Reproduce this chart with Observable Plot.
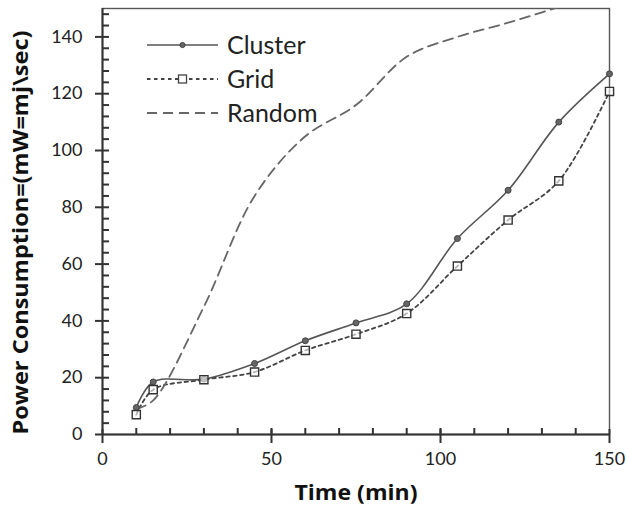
<!DOCTYPE html>
<html>
<head>
<meta charset="utf-8">
<script src="https://cdn.jsdelivr.net/npm/d3@7"></script>
<script src="https://cdn.jsdelivr.net/npm/@observablehq/plot@0.6"></script>
<style>
  html, body { margin: 0; padding: 0; background: #fff; }
</style>
</head>
<body>
<div id="wrap"></div>
<script>
// ---- data ----
const time    = [10, 15, 30, 45, 60, 75, 90, 105, 120, 135, 150];
const cluster = [9.5, 18.5, 19.5, 25, 33, 39.3, 46, 69, 86, 110, 127];
const grid    = [7, 15.8, 19.3, 22, 29.6, 35.3, 42.6, 59.3, 75.5, 89.3, 120.8];
const random  = [9, 12, 45, 84, 105, 116, 133, 140, 145, 150.5, 156];
const seriesNames = ["Cluster", "Grid", "Random"];

const xTickLabels = [0, 50, 100, 150];
const xInnerTicks = [10, 20, 30, 40, 50, 60, 70, 80, 90, 100, 110, 120, 130, 140];
const yTickLabels = [0, 20, 40, 60, 80, 100, 120, 140];
const yInnerTicks = [4, 8, 12, 16, 20, 24, 28, 32, 36, 40, 44, 48, 52, 56, 60, 64, 68, 72, 76, 80,
                     84, 88, 92, 96, 100, 104, 108, 112, 116, 120, 124, 128, 132, 136, 140, 144, 148];
const xTitle = "Time (min)";
const yTitle = "Power Consumption=(mW=mj\\sec)";

// ---- styles ----
const styles = {
  Cluster: {stroke: "#555", strokeWidth: 1.6, dash: null},
  Grid:    {stroke: "#444", strokeWidth: 1.8, dash: "3.5,3.5"},
  Random:  {stroke: "#666", strokeWidth: 1.8, dash: "10,6"}
};

const valuesBy = {Cluster: cluster, Grid: grid, Random: random};
const rows = seriesNames.flatMap(name => time.map((t, i) => ({series: name, t, v: valuesBy[name][i]})));
const rowsOf = name => rows.filter(d => d.series === name);

const axisColor = "#333";

const chart = Plot.plot({
  width: 626,
  height: 513,
  marginLeft: 102,
  marginRight: 17,
  marginTop: 8,
  marginBottom: 79,
  style: {fontFamily: "Lato, 'Open Sans', sans-serif", background: "#fff", color: "#222"},
  x: {domain: [0, 150]},
  y: {domain: [0, 150]},
  marks: [
    Plot.frame({stroke: "#555", strokeWidth: 1.4}),
    // series lines
    ...seriesNames.map(name => Plot.line(rowsOf(name), {
      x: "t", y: "v", curve: "catmull-rom", clip: name === "Random",
      stroke: styles[name].stroke, strokeWidth: styles[name].strokeWidth,
      strokeDasharray: styles[name].dash
    })),
    Plot.dot(rowsOf("Cluster"), {x: "t", y: "v", r: 3, fill: "#666", stroke: "#444", strokeWidth: 1}),
    Plot.dot(rowsOf("Grid"), {x: "t", y: "v", symbol: "square", r: 4.6, fill: "#fff", fillOpacity: 0.6, stroke: "#333", strokeWidth: 1.4}),
    // axis lines
    Plot.ruleX([0], {stroke: axisColor, strokeWidth: 2}),
    Plot.ruleY([0], {stroke: axisColor, strokeWidth: 2}),
    // tick labels + outer ticks
    Plot.axisX({ticks: xTickLabels, tickSize: 9, tickPadding: 9, fontSize: 18, label: null, stroke: axisColor, strokeWidth: 2}),
    Plot.axisY({ticks: yTickLabels, tickSize: 7, tickPadding: 13, fontSize: 18, label: null, stroke: axisColor, strokeWidth: 2}),
    // inner ticks (drawn inward from the axis)
    Plot.axisX({ticks: xInnerTicks, tickSize: 6, dy: -6, fill: "none", label: null, stroke: axisColor, strokeWidth: 2}),
    Plot.axisX({ticks: xTickLabels, tickSize: 5, dy: -5, fill: "none", label: null, stroke: axisColor, strokeWidth: 2}),
    Plot.axisY({ticks: yInnerTicks, tickSize: 7, dx: 7, fill: "none", label: null, stroke: axisColor, strokeWidth: 2}),
    // axis titles
    Plot.text([xTitle], {text: d => d, frameAnchor: "bottom", dy: 59, lineAnchor: "middle", textAnchor: "middle",
      fontSize: 21, fontWeight: "bold", fill: "#111", fontFamily: "'Open Sans', sans-serif", className: "xtitle"}),
    Plot.text([yTitle], {text: d => d, frameAnchor: "left", dx: -81, dy: 11, rotate: -90, lineAnchor: "middle", textAnchor: "middle",
      fontSize: 21, fontWeight: "bold", fill: "#111", fontFamily: "'Open Sans', sans-serif", className: "ytitle"})
  ]
});

document.getElementById("wrap").appendChild(chart);

// stretch the axis titles to the reference's lengths
d3.select(chart).selectAll(".xtitle text").attr("textLength", 123).attr("lengthAdjust", "spacingAndGlyphs");
d3.select(chart).selectAll(".ytitle text").attr("textLength", 404).attr("lengthAdjust", "spacingAndGlyphs");

// ---- legend, drawn inside the chart's own SVG (top-left of the plot area) ----
const leg = d3.select(chart).append("g").attr("class", "legend")
  .attr("font-family", "Lato, 'Open Sans', sans-serif")
  .attr("text-anchor", "start");
const x0 = 147, x1 = 218, xt = 227, y0 = 45, dyRow = 34;
seriesNames.forEach((name, i) => {
  const y = y0 + i * dyRow;
  const s = styles[name];
  leg.append("line").attr("x1", x0).attr("x2", x1).attr("y1", y).attr("y2", y)
    .attr("stroke", s.stroke).attr("stroke-width", s.strokeWidth)
    .attr("stroke-dasharray", s.dash);
  if (name === "Cluster") {
    leg.append("circle").attr("cx", (x0 + x1) / 2).attr("cy", y).attr("r", 2.6)
      .attr("fill", "#666").attr("stroke", "#444");
  } else if (name === "Grid") {
    leg.append("rect").attr("x", (x0 + x1) / 2 - 4).attr("y", y - 4).attr("width", 8).attr("height", 8)
      .attr("fill", "#fff").attr("stroke", "#444").attr("stroke-width", 1.3);
  }
  leg.append("text").attr("x", xt).attr("y", y).attr("dy", "0.34em")
    .attr("text-anchor", "start")
    .attr("font-size", 25).attr("fill", "#222").text(name);
});
</script>
</body>
</html>
